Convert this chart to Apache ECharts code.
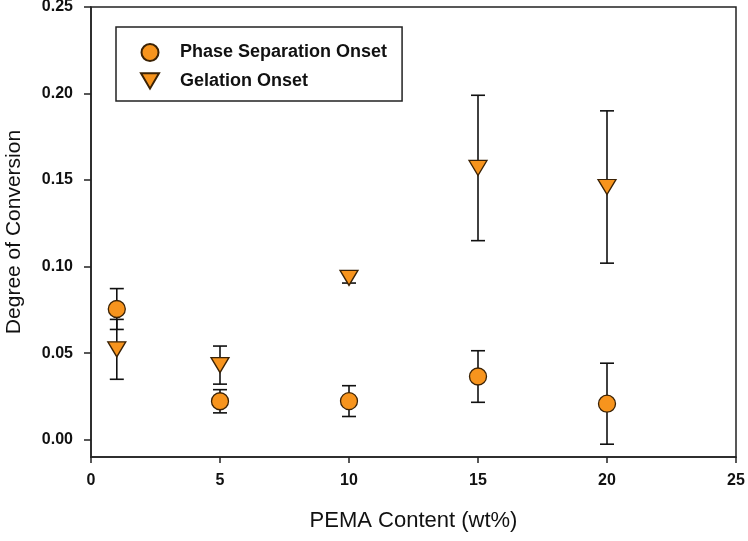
<!DOCTYPE html>
<html>
<head>
<meta charset="utf-8">
<script src="https://cdn.jsdelivr.net/npm/echarts@6/dist/echarts.min.js"></script>
<style>html,body{margin:0;padding:0;background:#fff}#c{width:748px;height:541px}</style>
</head>
<body>
<div id="c"></div>
<script>
var xValues = [1, 5, 10, 15, 20];
var phaseOnset = [0.0755, 0.0222, 0.0223, 0.0365, 0.0208];
var phaseErr = [0.0118, 0.0067, 0.0089, 0.0149, 0.0234];
var gelOnset = [0.0522, 0.0431, 0.0935, 0.157, 0.146];
var gelErr = [0.0173, 0.011, 0.003, 0.042, 0.044];
var xTicks = [0, 5, 10, 15, 20, 25];
var yTicks = [0, 0.05, 0.10, 0.15, 0.20, 0.25];

var FONT = '"Liberation Sans", Arial, sans-serif';
var ORANGE = '#f7941d';
var EDGE = '#3b2205';

function pts(ys) { return xValues.map(function (x, i) { return [x, ys[i]]; }); }
function errData(ys, es) { return xValues.map(function (x, i) { return [x, ys[i] - es[i], ys[i] + es[i]]; }); }

function renderErr(params, api) {
  var x = api.value(0);
  var lo = api.coord([x, api.value(1)]);
  var hi = api.coord([x, api.value(2)]);
  var hw = 7;
  var st = { stroke: '#111', lineWidth: 1.6 };
  return {
    type: 'group',
    children: [
      { type: 'line', shape: { x1: lo[0], y1: lo[1], x2: hi[0], y2: hi[1] }, style: st },
      { type: 'line', shape: { x1: lo[0] - hw, y1: lo[1], x2: lo[0] + hw, y2: lo[1] }, style: st },
      { type: 'line', shape: { x1: hi[0] - hw, y1: hi[1], x2: hi[0] + hw, y2: hi[1] }, style: st }
    ]
  };
}

var chart = echarts.init(document.getElementById('c'));
chart.setOption({
  animation: false,
  backgroundColor: '#fff',
  grid: { left: 91, right: 12, top: 7, bottom: 84, containLabel: false, outerBoundsMode: 'none',
    show: true, borderColor: '#222', borderWidth: 1.5, backgroundColor: 'transparent' },
  legend: {
    orient: 'vertical',
    left: 116, top: 27,
    padding: [16, 15, 11, 24],
    borderColor: '#222', borderWidth: 1.5,
    itemWidth: 18, itemHeight: 17, itemGap: 10,
    textStyle: { fontFamily: FONT, fontWeight: 'bold', fontSize: 18, color: '#111', padding: [0, 0, 0, 16] },
    data: [
      { name: 'Phase Separation Onset', icon: 'circle' },
      { name: 'Gelation Onset', icon: 'path://M0,0 L20,0 L10,17 Z' }
    ]
  },
  xAxis: {
    type: 'value', min: 0, max: 25, interval: 5,
    name: 'PEMA Content (wt%)', nameLocation: 'middle', nameGap: 53,
    nameTextStyle: { fontFamily: FONT, fontSize: 22, color: '#111' },
    axisLine: { onZero: false, lineStyle: { color: '#222', width: 1.5 } },
    axisTick: { show: true, length: 6, lineStyle: { color: '#222', width: 1.5 } },
    axisLabel: { fontFamily: FONT, fontWeight: 'bold', fontSize: 16, color: '#111', margin: 16,
      customValues: xTicks, formatter: function (v) { return String(v); } },
    splitLine: { show: false }
  },
  yAxis: {
    type: 'value', min: -0.01, max: 0.25,
    name: 'Degree of Conversion', nameLocation: 'middle', nameGap: 66,
    nameTextStyle: { fontFamily: FONT, fontSize: 21, color: '#111' },
    axisLine: { onZero: false, lineStyle: { color: '#222', width: 1.5 } },
    axisTick: { show: true, length: 7, lineStyle: { color: '#222', width: 1.5 }, customValues: yTicks },
    axisLabel: { fontFamily: FONT, fontWeight: 'bold', fontSize: 16, color: '#111', margin: 18,
      customValues: yTicks, formatter: function (v) { return v.toFixed(2); } },
    splitLine: { show: false }
  },
  series: [
    { type: 'custom', name: 'errPhase', renderItem: renderErr, data: errData(phaseOnset, phaseErr), z: 1, silent: true, encode: { x: 0, y: [1, 2] } },
    { type: 'custom', name: 'errGel', renderItem: renderErr, data: errData(gelOnset, gelErr), z: 1, silent: true, encode: { x: 0, y: [1, 2] } },
    { type: 'scatter', name: 'Phase Separation Onset', data: pts(phaseOnset), symbol: 'circle', symbolSize: 17, z: 3,
      itemStyle: { color: ORANGE, borderColor: EDGE, borderWidth: 1.3, opacity: 1 } },
    { type: 'scatter', name: 'Gelation Onset', data: pts(gelOnset), symbol: 'path://M0,0 L20,0 L10,17 Z', symbolSize: [18, 15], z: 3,
      itemStyle: { color: ORANGE, borderColor: EDGE, borderWidth: 1.3, opacity: 1 } }
  ]
});
</script>
</body>
</html>
